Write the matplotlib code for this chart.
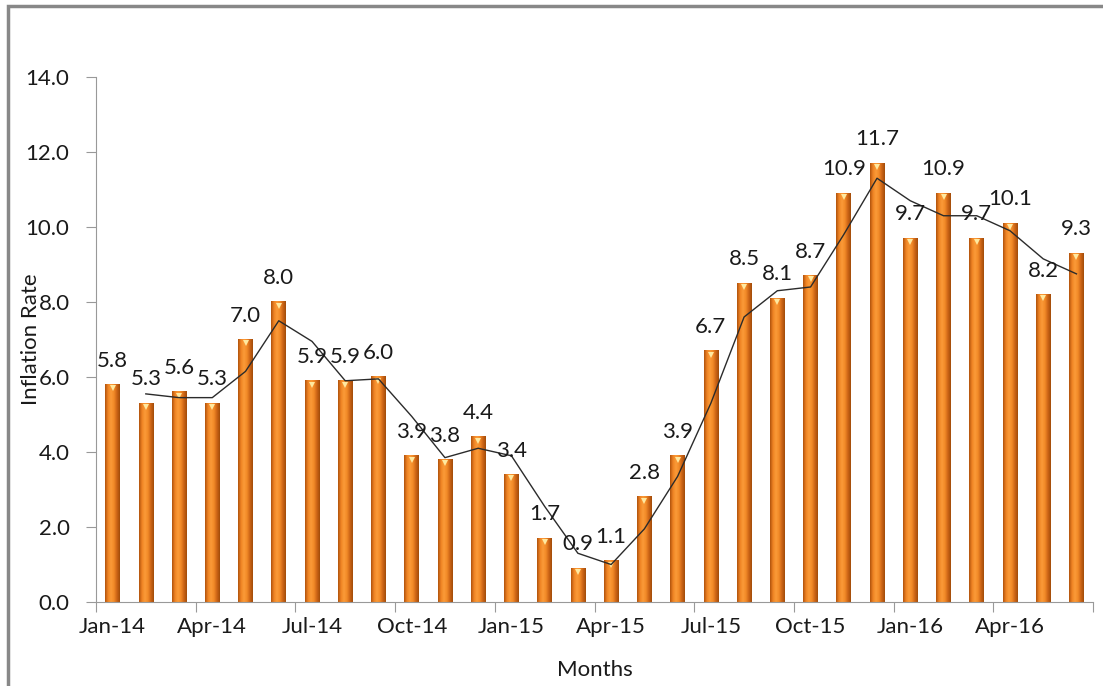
import numpy as np
import matplotlib
matplotlib.use('Agg')
import matplotlib.pyplot as plt
import pandas as pd
from matplotlib.colors import LinearSegmentedColormap
from matplotlib.patches import Rectangle

plt.rcParams['font.family'] = ['Lato', 'DejaVu Sans']

months = ['Jan-14', 'Feb-14', 'Mar-14', 'Apr-14', 'May-14', 'Jun-14', 'Jul-14', 'Aug-14', 'Sep-14',
          'Oct-14', 'Nov-14', 'Dec-14', 'Jan-15', 'Feb-15', 'Mar-15', 'Apr-15', 'May-15', 'Jun-15',
          'Jul-15', 'Aug-15', 'Sep-15', 'Oct-15', 'Nov-15', 'Dec-15', 'Jan-16', 'Feb-16', 'Mar-16',
          'Apr-16', 'May-16', 'Jun-16']
inflation = [5.8, 5.3, 5.6, 5.3, 7.0, 8.0, 5.9, 5.9, 6.0, 3.9, 3.8, 4.4, 3.4, 1.7, 0.9,
             1.1, 2.8, 3.9, 6.7, 8.5, 8.1, 8.7, 10.9, 11.7, 9.7, 10.9, 9.7, 10.1, 8.2, 9.3]

x = np.arange(len(months))
trend = pd.Series(inflation).rolling(2).mean()  # 2-period moving average trendline

fig = plt.figure(figsize=(11.03, 6.86), dpi=100)
ax = fig.add_axes([0.087, 0.1224, 0.904, 0.7654])

bars = ax.bar(x, inflation, width=0.44, color='none', edgecolor='none', zorder=2)

# cylinder-ish shading on each bar
cmap = LinearSegmentedColormap.from_list('orng', ['#b0520c', '#ef8424', '#fb9b38', '#f28a28', '#cc6416', '#a24c0a'])
grad = np.linspace(0, 1, 64).reshape(1, -1)
for b in bars:
    x0, w, h = b.get_x(), b.get_width(), b.get_height()
    ax.imshow(grad, cmap=cmap, aspect='auto', extent=(x0, x0 + w, 0, h), zorder=2, interpolation='bilinear')
ax.plot(x, np.array(inflation) - 0.1, 'v', color='#ffe9a0', markersize=4.5, markeredgewidth=0, zorder=3)

ax.plot(x[1:], trend[1:], color='#2b2b2b', lw=1.0, zorder=4)

for i, v in enumerate(inflation):
    ax.annotate(f'{v:.1f}', (i, v), xytext=(0, 10), textcoords='offset points',
                ha='center', va='bottom', fontsize=16, color='#1a1a1a', zorder=5)

ax.set_xlim(-0.5, len(months) - 0.5)
ax.set_ylim(0, 14)
ax.set_yticks(np.arange(0, 14.1, 2))
ax.set_yticklabels([f'{t:.1f}' for t in np.arange(0, 14.1, 2)], fontsize=16, color='#1a1a1a')
ax.set_xticks(np.arange(-0.5, len(months), 3))
ax.set_xticklabels([])
ax.set_xticks(x[::3], minor=True)
ax.set_xticklabels(months[::3], minor=True, fontsize=16, color='#1a1a1a')
ax.tick_params(axis='x', which='major', length=7, color='#999999', direction='out')
ax.tick_params(axis='x', which='minor', length=0, pad=11)
ax.tick_params(axis='y', length=7, color='#999999', pad=12)

for s in ['top', 'right']:
    ax.spines[s].set_visible(False)
for s in ['left', 'bottom']:
    ax.spines[s].set_color('#999999')

ax.set_xlabel('Months', fontsize=16, color='#1a1a1a', labelpad=16)
fig.text(0.028, 0.505, 'Inflation Rate', rotation=90, ha='center', va='center', fontsize=16, color='#1a1a1a')

fig.patches.append(Rectangle((8 / 1103, -0.05), 1.2, 1 - 6 / 686 + 0.05, transform=fig.transFigure,
                             fill=False, edgecolor='#888888', lw=2.5))

fig.savefig('out.png', dpi=100)
